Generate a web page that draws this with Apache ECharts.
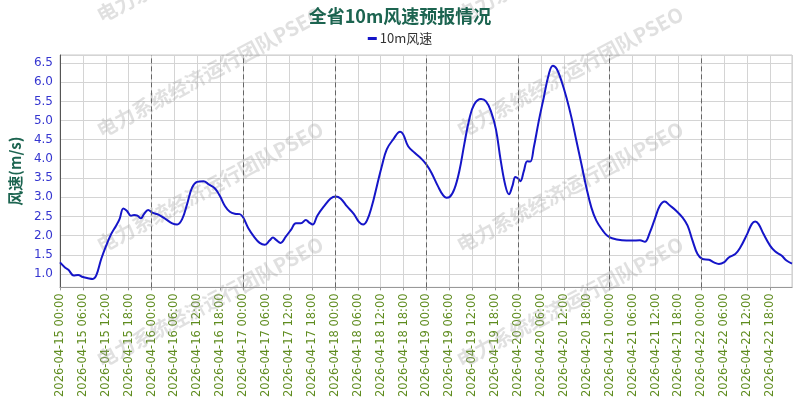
<!DOCTYPE html>
<html>
<head>
<meta charset="utf-8">
<script src="https://cdn.jsdelivr.net/npm/echarts@6/dist/echarts.min.js"></script>
<style>html,body{margin:0;padding:0;background:#fff}#c{width:800px;height:400px}</style>
</head>
<body>
<div id="c"></div>
<script>
// Days shown on the time axis
var days = ['2026-04-15','2026-04-16','2026-04-17','2026-04-18','2026-04-19','2026-04-20','2026-04-21','2026-04-22'];
// Hours elapsed since 2026-04-15 00:00 for each reading
var hours = [0,1.3,2.2,3.6,4.75,6,7.3,8.6,9.5,10.8,12.1,13.4,14.7,15.6,16.6,17.5,18.6,19.4,20.3,21.2,22,23.1,
24.2,25.9,27.7,29.4,30.7,32,33.3,34.6,35.9,37.6,38.9,40.6,41.9,43.2,44.5,45.8,47.1,
48,49.3,51,52.3,53.6,54.9,55.8,56.6,57.8,59.2,60.5,61.8,63.1,64.4,65.3,66.2,67.4,69.2,70.9,
72.2,73.5,75.2,77,78.3,79.4,80.4,81.7,83,84.3,85.6,87.3,89.1,89.9,91.2,92.9,94.7,
96,97.3,99,100.3,101.2,102.1,103.3,104.6,105.9,107.2,108.5,110.3,111.6,112.9,114.2,115.4,116.7,117.6,118.5,119.3,
120,120.6,121.5,122.4,123.2,124.1,125.4,126.7,128,129.1,130.1,131.4,132.7,134,135.3,136.6,137.9,139.2,140.5,142.2,143.3,
144.6,147.2,149.8,151.9,153.2,154.5,155.8,157.1,158.4,159.7,161.4,163.1,164.4,165.7,167,
168.3,170,171.3,172.6,173.9,175.2,176.9,178.2,180,181.2,182.1,183,184.3,186,187.3,189,190.3,191.75];
// 10m wind speed (m/s)
var windSpeed = [1.30,1.17,1.11,0.96,0.97,0.92,0.89,0.87,0.96,1.39,1.74,2.04,2.26,2.43,2.71,2.65,2.52,2.54,2.52,2.45,2.56,2.67,
2.60,2.54,2.43,2.32,2.29,2.43,2.82,3.25,3.40,3.42,3.34,3.23,3.03,2.77,2.62,2.57,2.56,
2.47,2.20,1.95,1.81,1.76,1.87,1.95,1.89,1.81,1.98,2.15,2.32,2.32,2.41,2.34,2.29,2.52,2.77,2.97,
3.02,2.97,2.76,2.56,2.36,2.29,2.39,2.77,3.29,3.81,4.25,4.51,4.71,4.64,4.33,4.16,4.00,
3.85,3.64,3.29,3.06,2.99,3.01,3.21,3.68,4.38,5.03,5.42,5.56,5.50,5.24,4.77,3.99,3.29,3.08,3.29,3.53,
3.49,3.42,3.68,3.94,3.93,4.29,4.98,5.59,6.19,6.43,6.35,6.02,5.59,5.07,4.46,3.86,3.25,2.73,2.39,2.13,2.00,
1.93,1.88,1.87,1.88,1.84,2.08,2.43,2.77,2.89,2.79,2.65,2.47,2.26,1.87,1.52,
1.39,1.37,1.30,1.26,1.30,1.43,1.52,1.69,2.04,2.30,2.37,2.30,2.04,1.74,1.59,1.48,1.35,1.27];
var seriesName = '10m风速';
var titleText = '全省10m风速预报情况';
var yName = '风速(m/s)';
var watermark = '电力系统经济运行团队PSEO';

var pairs = hours.map(function (h, i) { return [h, windSpeed[i]]; });
var dayLines = days.slice(1).map(function (d, i) { return { xAxis: (i + 1) * 24 }; });
function pad(n){ return (n < 10 ? '0' : '') + n; }
function fmtHour(v) {
  var d = Math.floor(v / 24), h = Math.round(v - d * 24);
  return days[d] + ' ' + pad(h) + ':00';
}

var wm = [];
[210, 570].forEach(function (cx) {
  [-43, 72, 187, 302].forEach(function (cy) {
    wm.push({
      type: 'text', x: cx, y: cy, rotation: 0.49, z: 1, silent: true,
      style: { text: watermark, x: 0, y: 0, align: 'center', verticalAlign: 'middle',
        font: 'bold 20px "Noto Sans CJK SC", sans-serif', fill: 'rgba(160,160,160,0.32)' }
    });
  });
});

var chart = echarts.init(document.getElementById('c'), null, { renderer: 'canvas' });
chart.setOption({
  animation: false,
  backgroundColor: '#fff',
  title: {
    text: titleText, left: 'center', top: 2,
    textStyle: { color: '#1c6450', fontSize: 18, fontWeight: 'bold', fontFamily: '"Noto Sans CJK SC", sans-serif' }
  },
  legend: {
    top: 27, left: 'center', icon: 'rect', itemWidth: 9, itemHeight: 3, itemGap: 10,
    textStyle: { color: '#333', fontSize: 13, fontFamily: '"Noto Sans CJK SC", sans-serif', padding: [0, 0, 0, -2] },
    data: [seriesName]
  },
  grid: { left: 52, right: 8, top: 55, bottom: 112, show: true, borderColor: '#c8c8c8', borderWidth: 1 },
  xAxis: {
    type: 'value', min: 0, max: 191.75, interval: 6,
    axisLine: { show: true, lineStyle: { color: '#999' } },
    axisTick: { show: true, length: 3, lineStyle: { color: '#999' } },
    splitLine: { show: true, lineStyle: { color: '#d4d4d4', width: 1 } },
    axisLabel: {
      rotate: 90, color: '#5f8c1f', fontSize: 11.5, margin: 6, showMaxLabel: false,
      fontFamily: '"DejaVu Sans", sans-serif',
      formatter: function (v) { return fmtHour(v); }
    }
  },
  yAxis: {
    type: 'value', min: 0.65, max: 6.71, splitNumber: 12, minInterval: 0.5, maxInterval: 0.5,
    name: yName, nameLocation: 'middle', nameRotate: 90, nameGap: 28,
    nameTextStyle: { color: '#1c6450', fontSize: 15, fontWeight: 'bold', fontFamily: '"Noto Sans CJK SC", sans-serif' },
    axisLine: { show: true, lineStyle: { color: '#555' } },
    axisTick: { show: false },
    splitLine: { show: true, lineStyle: { color: '#d4d4d4', width: 1 } },
    axisLabel: {
      color: '#3535d0', fontSize: 12, margin: 7, showMinLabel: false, showMaxLabel: false,
      fontFamily: '"DejaVu Sans", sans-serif',
      formatter: function (v) { return v.toFixed(1); }
    }
  },
  graphic: wm,
  series: [{
    name: seriesName, type: 'line', data: pairs, smooth: 0.4, showSymbol: false, z: 3,
    lineStyle: { color: '#1515c8', width: 2 }, itemStyle: { color: '#1515c8' },
    markLine: {
      silent: true, symbol: 'none', label: { show: false },
      lineStyle: { color: '#666', type: [5, 3], width: 1 },
      data: dayLines
    }
  }]
});
</script>
</body>
</html>
